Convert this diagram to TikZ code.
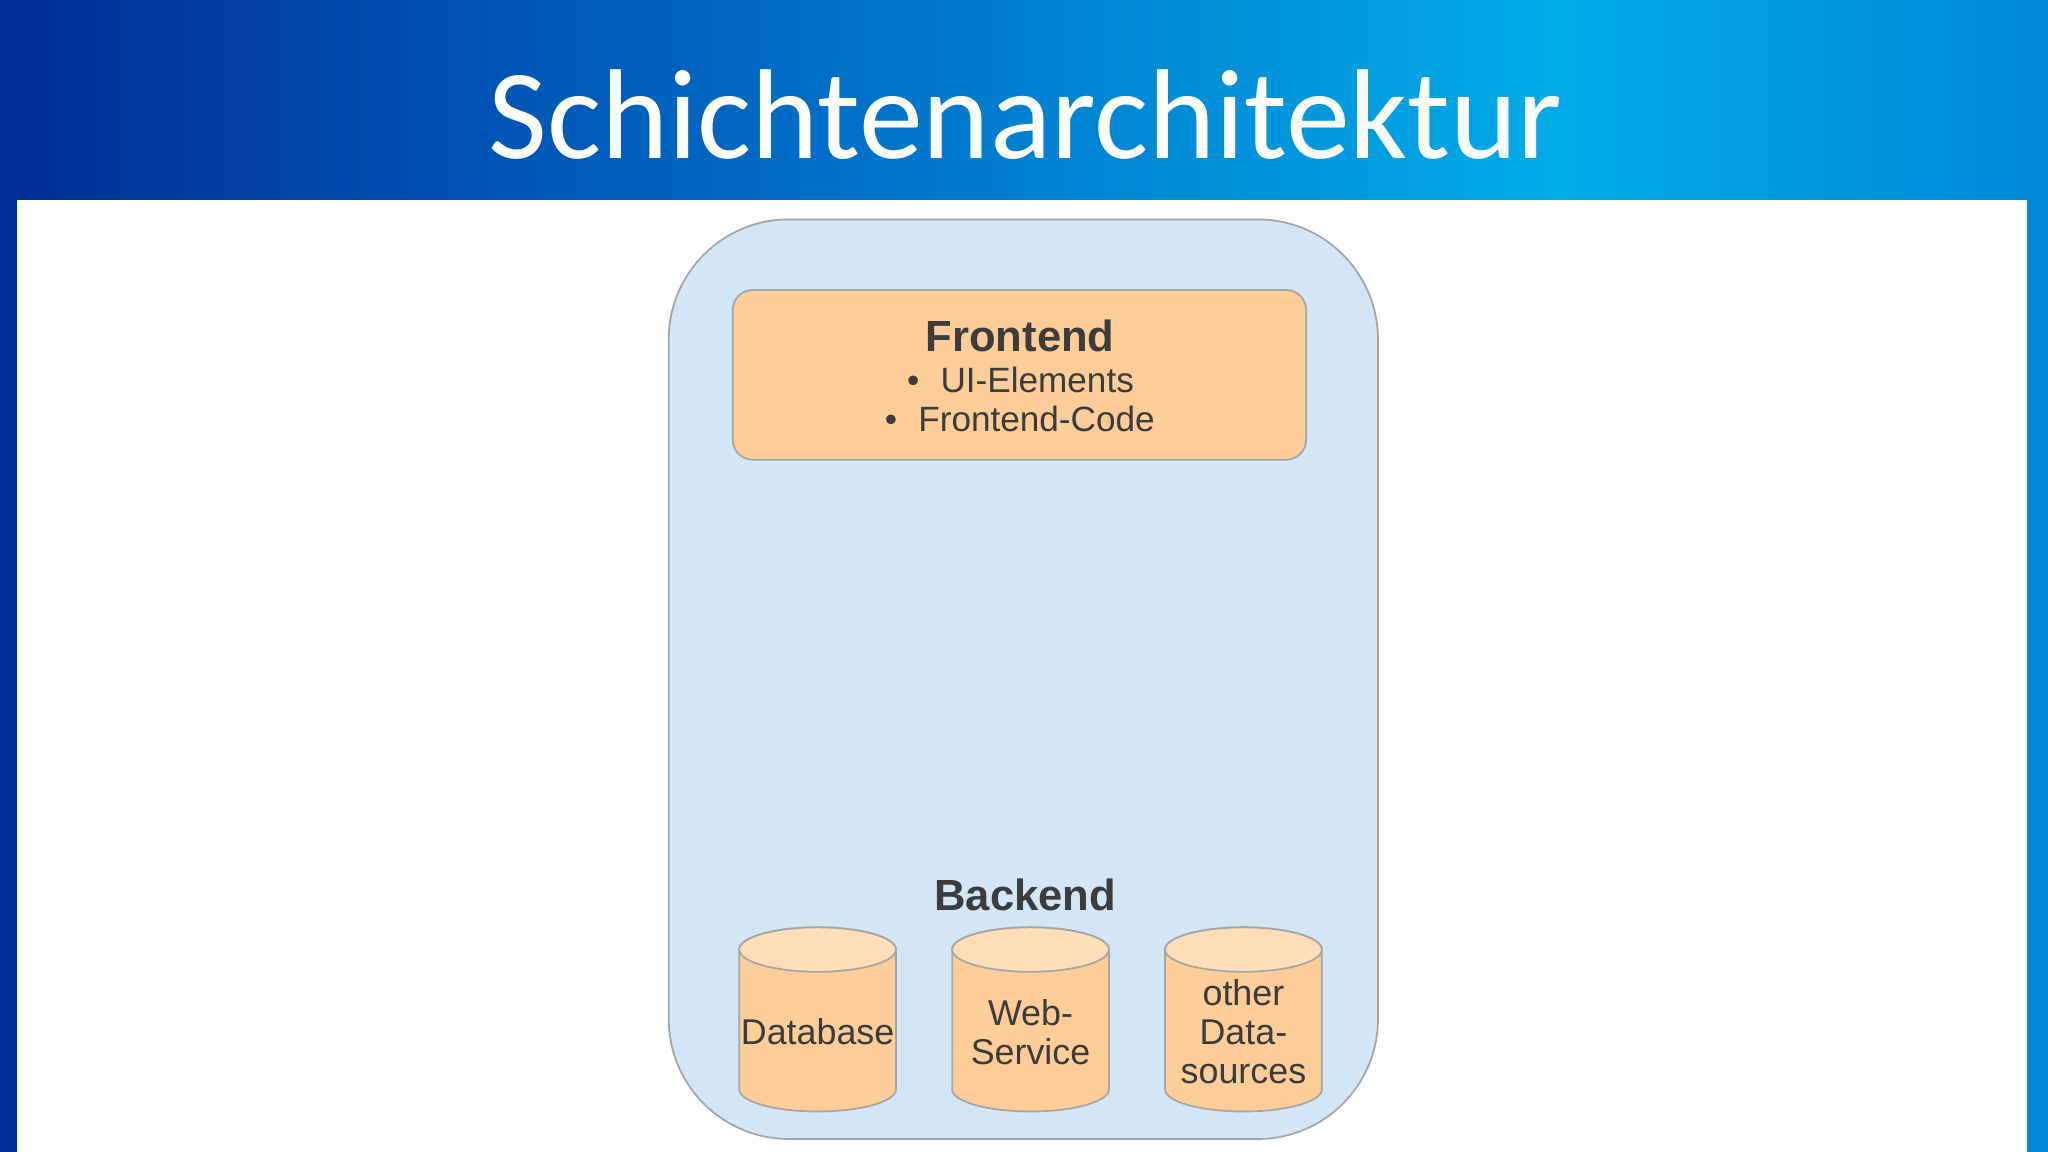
\documentclass[tikz,border=0pt]{standalone}
\usepackage{fontspec}
\setmainfont{Liberation Sans}
\newfontfamily\titlefont{Carlito}
\definecolor{navy}{RGB}{0,45,150}
\definecolor{cyanb}{RGB}{0,172,232}
\definecolor{midb}{RGB}{0,110,200}
\definecolor{rightb}{RGB}{0,135,215}
\definecolor{outerfill}{RGB}{210,230,245}
\definecolor{boxfill}{RGB}{252,204,153}
\definecolor{captop}{RGB}{253,222,185}
\definecolor{txt}{RGB}{60,60,60}
\pgfdeclarehorizontalshading{bgshade}{100bp}{color(0bp)=(navy); color(25bp)=(navy); color(45bp)=(midb); color(63bp)=(cyanb); color(75bp)=(rightb); color(100bp)=(rightb)}
\tikzset{
  edgegray/.style={draw=black!35, line width=0.5pt},
  lbl/.style={text=txt, font=\fontsize{10}{15}\selectfont, align=center, inner sep=0pt},
  cyl/.style={text=txt, font=\fontsize{10.2}{11.1}\selectfont, align=center, inner sep=0pt},
}
\begin{document}
\begin{tikzpicture}[x=0.01306cm,y=-0.01306cm]
\useasboundingbox (0,0) rectangle (1568,882);
\shade[shading=bgshade] (0,0) rectangle (1568,882);
\fill[white] (13,153) rectangle (1552,882);
\node[text=white, font=\titlefont\fontsize{36.4}{44}\selectfont, inner sep=0pt] (title) at (785,88) {Schichtenarchitektur};
% outer container
\draw[edgegray, fill=outerfill, rounded corners=1.2cm] (512,168) rectangle (1055,872);
% frontend
\draw[edgegray, fill=boxfill, rounded corners=0.2cm] (561,222) rectangle (1000,352);
\node[lbl, font=\bfseries\fontsize{12.4}{16}\selectfont] (fe) at (781,257) {Frontend};
\node[lbl, anchor=west] (fel) at (694,291) {\textbullet\hspace{0.6em}UI-Elements};
\node[lbl, anchor=west] (fel2) at (677,321) {\textbullet\hspace{0.6em}Frontend-Code};
\node[lbl, font=\bfseries\fontsize{12.4}{16}\selectfont] (be) at (785,685) {Backend};
% cylinders
\foreach \cx in {626,789,952}{
  \draw[edgegray, fill=boxfill] (\cx-60,727) -- (\cx-60,834) arc[start angle=180,end angle=360,x radius=0.784cm,y radius=0.222cm] -- (\cx+60,727) arc[start angle=0,end angle=180,x radius=0.784cm,y radius=0.222cm] -- cycle;
  \draw[edgegray, fill=captop] (\cx,727) ellipse[x radius=0.784cm, y radius=0.222cm];
}
\node[cyl] (db) at (626,790) {Database};
\node[cyl] (ws) at (789,790) {Web-\\Service};
\node[cyl] (od) at (952,790) {other\\Data-\\sources};
\end{tikzpicture}
\end{document}
